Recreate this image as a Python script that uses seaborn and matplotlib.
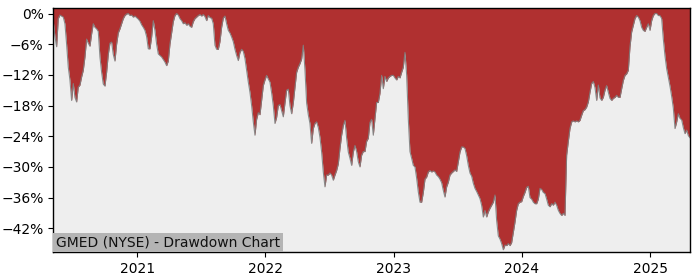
import matplotlib
matplotlib.use("Agg")
import matplotlib.pyplot as plt
import matplotlib.ticker as mticker
import matplotlib.dates as mdates
import numpy as np
import pandas as pd
import seaborn as sns

# ---- data -------------------------------------------------------------
start_date = "2020-05-07"
end_date = "2025-04-24"
drawdown_pct = [
    -1.5, -4.5, -6.5, -1.0, -0.3, -0.5, -0.7, -2.0, -6.0, -10.5,
    -13.0, -17.0, -13.7, -16.4, -17.3, -14.4, -14.0, -12.4, -11.1, -8.5,
    -5.0, -5.8, -6.4, -4.0, -2.0, -2.7, -3.0, -3.5, -8.5, -11.5,
    -13.8, -14.2, -11.5, -8.0, -5.8, -5.6, -8.0, -9.3, -6.0, -3.8,
    -3.0, -2.0, -1.0, -0.4, -0.1, 0.0, -0.4, -0.3, -0.7, -0.5,
    -0.8, -1.1, -1.5, -2.2, -2.7, -3.3, -4.5, -6.9, -6.9, -4.6,
    -1.4, -3.3, -6.0, -7.9, -8.2, -8.5, -9.0, -9.5, -10.2, -9.3,
    -6.0, -3.8, -1.6, -0.4, 0.0, -0.3, -1.0, -1.4, -2.0, -1.8,
    -2.3, -2.0, -2.5, -2.7, -1.6, -1.0, -0.7, -0.4, -0.2, -0.5,
    -0.2, -0.6, -1.4, -0.4, -0.8, -0.9, -2.0, -6.2, -7.0, -7.0,
    -5.5, -2.7, -0.9, -0.5, -2.0, -3.3, -3.8, -4.6, -5.5, -7.0,
    -8.2, -9.2, -7.6, -7.0, -7.4, -8.8, -11.1, -13.4, -15.4, -18.0,
    -21.2, -23.8, -20.7, -19.4, -19.8, -17.0, -14.1, -13.0, -12.1, -12.8,
    -13.4, -15.5, -18.0, -21.5, -20.3, -18.0, -17.8, -19.0, -20.2, -17.5,
    -15.0, -14.8, -18.0, -19.6, -17.5, -14.4, -11.5, -10.5, -9.8, -8.9,
    -6.2, -11.0, -17.5, -19.8, -21.5, -25.4, -22.5, -21.5, -21.2, -22.3,
    -24.2, -27.1, -31.0, -33.9, -31.6, -31.6, -31.2, -31.6, -32.6, -31.6,
    -30.7, -29.4, -26.4, -23.8, -21.9, -20.9, -24.4, -27.1, -28.3, -29.7,
    -27.1, -25.8, -27.0, -29.0, -30.0, -27.7, -27.0, -27.0, -25.0, -24.4,
    -21.3, -20.7, -23.8, -20.5, -17.4, -17.4, -15.6, -12.1, -14.7, -12.3,
    -13.3, -12.6, -12.3, -12.1, -12.1, -12.6, -13.0, -12.3, -12.6, -11.5,
    -10.5, -7.6, -12.0, -20.6, -27.0, -28.3, -29.7, -30.0, -32.2, -34.9,
    -36.9, -36.9, -35.0, -32.4, -32.0, -31.0, -30.7, -31.0, -30.8, -31.0,
    -31.6, -31.9, -32.4, -33.1, -34.6, -35.9, -33.9, -33.0, -31.6, -31.2,
    -30.9, -30.6, -30.9, -29.0, -27.1, -26.1, -26.1, -26.4, -27.8, -29.7,
    -31.2, -31.8, -33.2, -34.2, -34.8, -35.5, -36.2, -37.5, -39.8, -38.5,
    -39.8, -38.8, -38.1, -37.5, -36.9, -35.5, -40.5, -43.5, -44.1, -45.0,
    -46.2, -45.3, -45.4, -45.0, -45.4, -44.8, -42.8, -40.8, -38.5, -37.2,
    -36.9, -36.8, -35.8, -35.0, -34.0, -33.8, -36.0, -36.3, -36.9, -37.2,
    -37.2, -36.3, -34.2, -34.4, -35.0, -35.2, -36.3, -37.5, -37.8, -37.2,
    -37.5, -36.9, -37.5, -38.5, -39.1, -39.5, -39.1, -39.5, -27.7, -25.0,
    -22.5, -21.2, -21.0, -21.2, -21.0, -21.2, -20.9, -19.9, -19.0, -18.8,
    -18.3, -17.3, -15.4, -13.7, -13.3, -14.5, -17.0, -14.0, -16.5, -17.0,
    -16.4, -15.0, -14.1, -15.4, -16.6, -17.0, -16.6, -16.4, -16.0, -16.4,
    -16.4, -14.7, -13.1, -12.1, -11.8, -11.1, -6.5, -3.6, -2.3, -1.0,
    -0.4, -0.7, -1.4, -2.7, -3.3, -3.5, -2.7, -2.0, -3.3, -1.4,
    -0.4, 0.0, 0.0, -0.4, -0.4, -1.0, -5.0, -8.3, -10.8, -12.5,
    -14.2, -16.2, -18.5, -22.5, -21.2, -19.6, -20.5, -20.8, -22.3, -23.5,
    -22.8, -23.9, -24.3,
]
y_ticks = [0, -6, -12, -18, -24, -30, -36, -42]
x_tick_years = ["2021", "2022", "2023", "2024", "2025"]
title_text = "GMED (NYSE) - Drawdown Chart"

dates = pd.date_range(start_date, end_date, periods=len(drawdown_pct))
df = pd.DataFrame({"date": dates, "drawdown": drawdown_pct})

# ---- figure -----------------------------------------------------------
fig = plt.figure(figsize=(7, 2.8), dpi=100)
ax = fig.add_axes([0.0761, 0.099, 0.9096, 0.871])

y_top, y_bot = 1.0, -46.7
ax.set_facecolor("#eeeeee")
ax.fill_between(df["date"], df["drawdown"], y_top, color="#b03030", linewidth=0)
sns.lineplot(data=df, x="date", y="drawdown", ax=ax, color="#808080",
             linewidth=0.8, alpha=0.9)

ax.set_xlim(dates[0], dates[-1])
ax.set_ylim(y_bot, y_top)
ax.set_yticks(y_ticks)
ax.yaxis.set_major_formatter(mticker.FuncFormatter(
    lambda v, p: f"{v:.0f}%".replace("-", "\u2212")))
ax.set_xticks([pd.Timestamp(f"{y}-01-01") for y in x_tick_years])
ax.set_xticklabels(x_tick_years)
ax.tick_params(labelsize=10)
ax.set_xlabel("")
ax.set_ylabel("")
for s in ax.spines.values():
    s.set_color("black")
    s.set_linewidth(1.0)

ax.text(0.004, 0.012, title_text, transform=ax.transAxes, fontsize=10,
        ha="left", va="bottom", color="#111111",
        bbox=dict(facecolor="#b4b4b4", edgecolor="none", pad=2.0))

fig.savefig("out.png", dpi=100)
